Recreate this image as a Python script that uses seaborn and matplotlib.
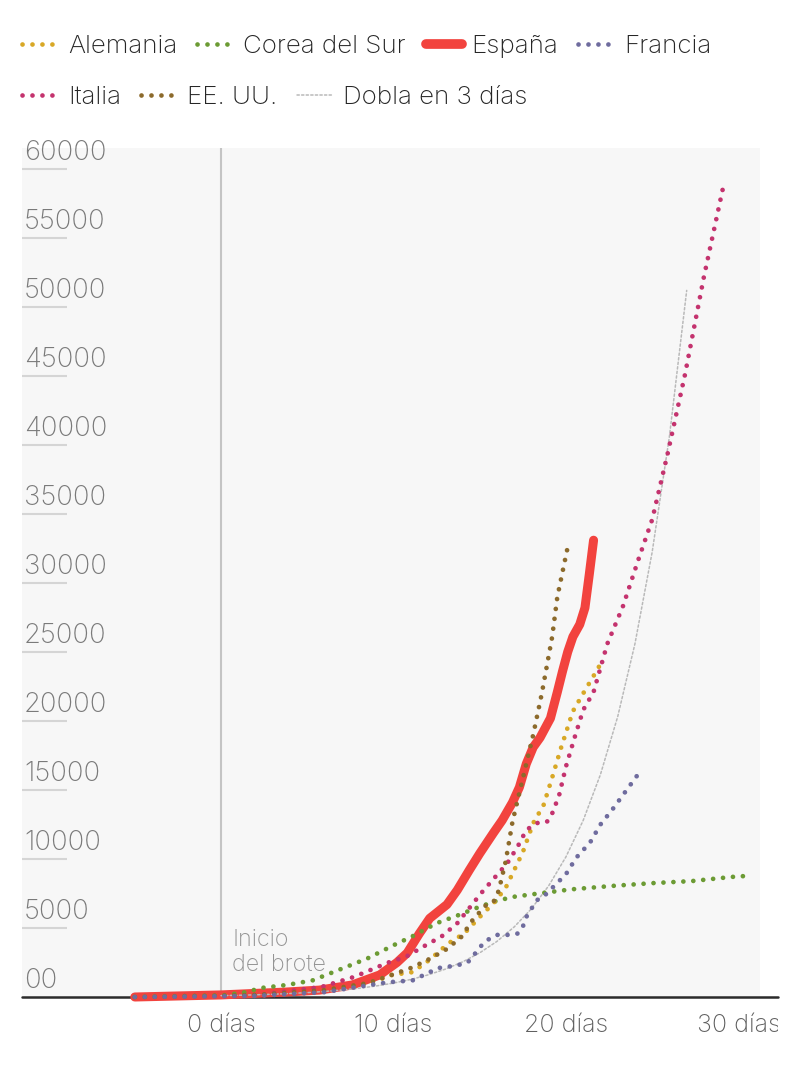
"""
Casos confirmados de coronavirus desde el inicio del brote, por país.
"""

import matplotlib
matplotlib.use("Agg")
import matplotlib.pyplot as plt
from matplotlib.lines import Line2D
from matplotlib.transforms import Bbox, TransformedBbox
import seaborn as sns

# --- Datos (días desde el inicio del brote, casos) ---
alemania_dias = [-5, 2, 6, 8.5, 9.9, 11.1, 12.1, 13.2, 14.1, 15.0, 15.8, 16.5, 17.0, 17.5, 18.1,
                 18.7, 19.2, 19.7, 20.4, 21.0, 21.9, 22.1]
alemania_casos = [0, 120, 450, 950, 1600, 1800, 2700, 3900, 4600, 5800, 6800, 7900, 9200, 10500, 12600,
                  13900, 15900, 18000, 20700, 22000, 23900, 24600]

corea_dias = [-5, 0, 1.5, 2.3, 3.8, 5.3, 6.9, 8.5, 10.0, 11.1, 12.5, 13.7, 14.7, 15.8, 16.9, 18.1,
              20.3, 22.7, 25.0, 27.3, 29.6, 30.8]
corea_casos = [0, 100, 360, 650, 870, 1200, 2000, 2800, 3750, 4400, 5350, 5900, 6400, 6900, 7250, 7450,
               7800, 8050, 8250, 8400, 8700, 8800]

espana_dias = [-5, 0, 3.8, 5.7, 7.6, 9.2, 10.2, 10.8, 11.5, 12.1, 13.1, 13.7, 14.4, 15.0, 15.8, 16.3,
               16.9, 17.3, 17.7, 18.1, 18.5, 19.1, 19.5, 19.8, 20.1, 20.4, 20.8, 21.1, 21.35, 21.6]
espana_casos = [0, 150, 360, 500, 870, 1600, 2500, 3200, 4600, 5700, 6700, 7750, 9200, 10400, 11900, 12800,
                14100, 15200, 16900, 18100, 18800, 20200, 22100, 23600, 25000, 26100, 27000, 28200, 30600, 33100]

francia_dias = [-5, 2, 6, 9.3, 10.0, 11.1, 11.6, 12.1, 12.6, 13.2, 13.7, 14.3, 14.7, 15.0, 15.4, 16.0,
                16.6, 17.2, 17.5, 17.7, 18.0, 18.3, 18.8, 19.2, 20.0, 20.6, 21.4, 22.0, 22.7, 23.4, 24.1]
francia_casos = [0, 80, 350, 1000, 1100, 1200, 1500, 1800, 2100, 2200, 2300, 2500, 3100, 3600, 4100, 4500,
                 4500, 4600, 5100, 5800, 6400, 7000, 7400, 7900, 8900, 10100, 11200, 12500, 13600, 14800, 16000]

italia_dias = [-5, 1.7, 5.8, 7.7, 9.7, 10.7, 11.8, 12.8, 13.7, 14.4, 15.1, 15.9, 16.6, 17.2, 17.7, 18.3,
               18.9, 19.2, 19.6, 20.0, 20.5, 21.0, 21.6, 22.4, 23.3, 24.2, 25.0, 25.9, 26.9, 28.0, 29.1]
italia_casos = [0, 80, 720, 1450, 2500, 2900, 3700, 4400, 5350, 6450, 7550, 8700, 9700, 10900, 12100, 12600,
                12700, 13300, 14600, 16700, 18800, 20800, 22100, 25600, 28300, 31700, 34600, 39400, 45100,
                52200, 58600]

eeuu_dias = [-5, 2, 6, 8.5, 9.9, 11.0, 12.0, 13.0, 13.9, 14.6, 15.4, 15.8, 16.1, 16.5, 16.9, 18.1,
             18.6, 19.2, 19.5, 20.1]
eeuu_casos = [0, 150, 500, 1000, 1600, 2100, 2700, 3400, 4300, 5600, 6700, 6900, 7700, 9800, 12700, 19000,
              22000, 26100, 29000, 32600]

dobla_dias = list(range(0, 28))
dobla_casos = [100, 126, 159, 200, 252, 317, 400, 504, 635, 800, 1008, 1270, 1600, 2016, 2540, 3200,
               4032, 5080, 6400, 8063, 10159, 12800, 16127, 20319, 25600, 32254, 40637, 51200]

ticks_y = [0, 5000, 10000, 15000, 20000, 25000, 30000, 35000, 40000, 45000, 50000, 55000, 60000]
etiquetas_y = ["00", "5000", "10000", "15000", "20000", "25000", "30000", "35000", "40000",
               "45000", "50000", "55000", "60000"]
ticks_x = [0, 10, 20, 30]
etiquetas_x = ["0 días", "10 días", "20 días", "30 días"]

# --- Estilo ---
sns.set_theme(style="white")
plt.rcParams["font.family"] = ["Inter", "DejaVu Sans"]
plt.rcParams["font.weight"] = "light"

DOT = (0, (0.01, 2.1))
DOT_LW = 3.4
C_ALE, C_COR, C_ESP, C_FRA = "#d8a826", "#6c9b34", "#f2433e", "#6f6c9e"
C_ITA, C_USA, C_DOB = "#c4336e", "#8c6a2b", "#b9b9b9"

W, H = 800, 1071
fig = plt.figure(figsize=(W / 100, H / 100), dpi=100)
ax = fig.add_axes([22 / W, 74 / H, 738 / W, 849 / H])
ax.set_facecolor("#f7f7f7")
for s in ax.spines.values():
    s.set_visible(False)

ax.set_xlim(-11.54, 31.25)
ax.set_ylim(0, 61520)

# lineas de referencia
ax.axvline(0, color="#c4c4c4", lw=1.5, zorder=1)
ax.axhline(0, xmin=0, xmax=(778 - 22) / 738, color="#2b2b2b", lw=1.8, clip_on=False, zorder=2)

series = [
    (espana_dias, espana_casos, C_ESP, 6.5, "-", 3),
    (dobla_dias, dobla_casos, C_DOB, 1.1, (0, (1.5, 1.5)), 3.5),
    (corea_dias, corea_casos, C_COR, DOT_LW, DOT, 4),
    (alemania_dias, alemania_casos, C_ALE, DOT_LW, DOT, 4),
    (italia_dias, italia_casos, C_ITA, DOT_LW, DOT, 4),
    (eeuu_dias, eeuu_casos, C_USA, DOT_LW, DOT, 4),
    (francia_dias, francia_casos, C_FRA, DOT_LW, DOT, 4.5),
]
for dias, casos, color, lw, ls, z in series:
    sns.lineplot(x=dias, y=casos, ax=ax, color=color, linewidth=lw, linestyle=ls,
                 dash_capstyle="round", solid_capstyle="round", solid_joinstyle="round",
                 clip_on=False, estimator=None, sort=False, legend=False, zorder=z)

# eje y: etiquetas dentro del area con una pequeña raya debajo
ax.set_yticks([])
ax.set_ylabel("")
ax.hlines(ticks_y[1:], 0, 45 / 738, transform=ax.get_yaxis_transform(),
          color="#d5d5d5", lw=1.5, zorder=1)
for v, lab in zip(ticks_y, etiquetas_y):
    ax.annotate(lab, xy=(2 / 738, v), xycoords=ax.get_yaxis_transform(),
                xytext=(0, 6.5), textcoords="offset points", ha="left", va="baseline",
                fontsize=19.8, color="#7a7a7a", fontweight="light")

# eje x
ax.set_xticks(ticks_x, labels=etiquetas_x)
ax.set_xlabel("")
ax.tick_params(axis="x", length=0, pad=12.5, labelsize=18, labelcolor="#606060")
clip = TransformedBbox(Bbox([[0, 0], [778 / W, 1]]), fig.transFigure)
for lbl in ax.get_xticklabels():
    lbl.set_fontweight("light")
    lbl.set_clip_box(clip)
    lbl.set_clip_on(True)

ax.text(0.64, 1520, "Inicio\ndel brote", fontsize=16.8, color="#939393",
        ha="left", va="bottom", fontweight="light", zorder=2)


# --- Leyenda en dos filas ---
def handle(color, lw, ls):
    return Line2D([], [], color=color, lw=lw, linestyle=ls,
                  dash_capstyle="round", solid_capstyle="round")


fs = 18.7
leg_kw = dict(loc="center left", frameon=False, handlelength=36 / 26,
              handletextpad=10 / 26, columnspacing=20 / 26, borderpad=0, borderaxespad=0,
              labelcolor="#262626", prop={"weight": "light", "size": fs})
fila1 = [handle(C_ALE, DOT_LW, DOT), handle(C_COR, DOT_LW, DOT), handle(C_ESP, 7.0, "-"),
         handle(C_FRA, DOT_LW, DOT)]
fila2 = [handle(C_ITA, DOT_LW, DOT), handle(C_USA, DOT_LW, DOT), handle(C_DOB, 1.1, (0, (1.5, 1.5)))]
fig.legend(fila1, ["Alemania", "Corea del Sur", "España", "Francia"], ncol=4,
           bbox_to_anchor=(22 / W, 1 - 46 / H), **leg_kw)
fig.legend(fila2, ["Italia", "EE. UU.", "Dobla en 3 días"], ncol=3,
           bbox_to_anchor=(22 / W, 1 - 97 / H), **leg_kw)

fig.savefig("out.png", dpi=100, facecolor="white")
